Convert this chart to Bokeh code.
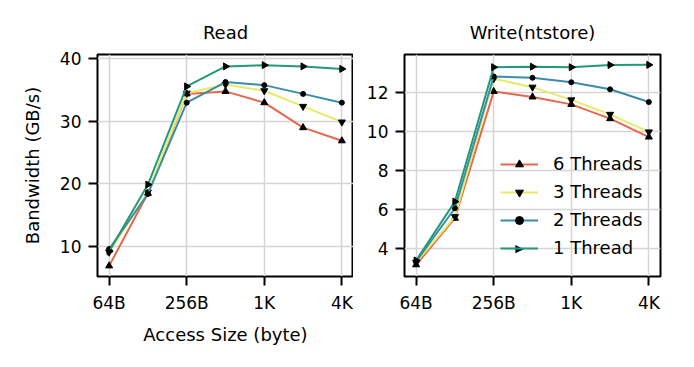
import numpy as np
from bokeh.plotting import figure
from bokeh.layouts import row
from bokeh.models import Range1d, FixedTicker, Legend, LegendItem, Label
from bokeh.embed import file_html
from bokeh.resources import INLINE

sizes = [64, 128, 256, 512, 1024, 2048, 4096]
tick_values = [64, 256, 1024, 4096]
tick_labels = ["64B", "256B", "1K", "4K"]

series_names = ["6 Threads", "3 Threads", "2 Threads", "1 Thread"]
read_6 = [6.9, 18.5, 34.4, 34.8, 33.0, 29.0, 26.9]
read_3 = [9.1, 18.7, 34.5, 35.9, 34.9, 32.4, 29.9]
read_2 = [9.6, 18.4, 33.0, 36.3, 35.8, 34.4, 33.0]
read_1 = [9.2, 19.9, 35.6, 38.8, 39.0, 38.8, 38.4]
write_6 = [3.17, 5.55, 12.03, 11.75, 11.37, 10.64, 9.70]
write_3 = [3.29, 5.63, 12.68, 12.25, 11.60, 10.86, 9.96]
write_2 = [3.34, 6.06, 12.80, 12.73, 12.50, 12.14, 11.49]
write_1 = [3.39, 6.40, 13.27, 13.30, 13.27, 13.38, 13.39]

colors = ["#e8664d", "#e9e96a", "#3b8ca6", "#22997a"]
markers = ["triangle", "inverted_triangle", "circle", "triangle"]
angles = [0, 0, 0, -np.pi / 2]
msizes = [7, 7, 5, 7]

FONT = "DejaVu Sans"
TICK_FS = "17px"
LAB_FS = "18px"


def make_fig(title, ydata, yr, yticks, left_border, right_border, ylabel=None, xlabel=None):
    p = figure(width=left_border + 256 + right_border, height=359,
               x_axis_type="log", output_backend="svg", toolbar_location=None,
               x_range=Range1d(64 * 2 ** -0.3, 4096 * 2 ** 0.3),
               y_range=Range1d(*yr),
               min_border_left=left_border, min_border_right=right_border,
               min_border_top=54, min_border_bottom=83, frame_width=256, frame_height=222,
               title=title)
    p.title.align = "center"
    p.title.text_font = FONT
    p.title.text_font_size = LAB_FS
    p.title.text_font_style = "normal"
    p.title.text_color = "black"
    p.title.standoff = 23
    p.outline_line_color = "black"
    p.outline_line_width = 2
    p.outline_line_alpha = 1
    p.xaxis.ticker = FixedTicker(ticks=tick_values)
    p.xaxis.major_label_overrides = {v: l for v, l in zip(tick_values, tick_labels)}
    p.yaxis.ticker = FixedTicker(ticks=yticks)
    for ax in [p.xaxis[0], p.yaxis[0]]:
        ax.axis_line_color = None
        ax.major_tick_out = 9
        ax.major_tick_in = 0
        ax.major_tick_line_width = 2
        ax.major_tick_line_color = "black"
        ax.minor_tick_line_color = None
        ax.major_label_text_font = FONT
        ax.major_label_text_font_size = TICK_FS
        ax.major_label_text_color = "black"
        ax.major_label_standoff = 7
        ax.axis_label_text_font = FONT
        ax.axis_label_text_font_size = LAB_FS
        ax.axis_label_text_font_style = "normal"
        ax.axis_label_text_color = "black"
    if ylabel:
        p.yaxis.axis_label = ylabel
        p.yaxis.axis_label_standoff = 14
    if xlabel:
        p.xaxis.axis_label = xlabel
        p.xaxis.axis_label_standoff = 8
    p.grid.grid_line_color = "#d5d5d5"
    p.grid.grid_line_width = 1.5
    p.xgrid.ticker = FixedTicker(ticks=tick_values)
    p.ygrid.ticker = FixedTicker(ticks=yticks)
    items = []
    for name, ys, c, m, a, s in zip(series_names, ydata, colors, markers, angles, msizes):
        lr = p.line(sizes, ys, line_color=c, line_width=2)
        sr = p.scatter(sizes, ys, marker=m, size=s, angle=a, fill_color="black", line_color="black")
        # legend cannot rotate markers, so the rotated one is drawn as a label below
        items.append(LegendItem(label=name, renderers=[lr, sr] if a == 0 else [lr]))
    return p, items


p1, _ = make_fig("Read", [read_6, read_3, read_2, read_1], (5.2, 40.7), [10, 20, 30, 40],
                 97, 0, ylabel="Bandwidth (GB/s)", xlabel="Access Size (byte)")
p2, items = make_fig("Write(ntstore)", [write_6, write_3, write_2, write_1], (2.57, 13.92),
                     [4, 6, 8, 10, 12], 51, 25)
LEG_X, LEG_Y, GW, GH, SP = 96, 18, 38, 20, 7
legend = Legend(items=items, location=(LEG_X, LEG_Y), padding=0, margin=0,
                border_line_alpha=0, background_fill_alpha=0,
                glyph_width=GW, glyph_height=GH, label_height=GH, spacing=SP,
                label_standoff=15, label_text_font=FONT, label_text_font_size=LAB_FS,
                label_text_color="black")
p2.add_layout(legend, "center")
p2.add_layout(Label(x=LEG_X + GW / 2, y=LEG_Y + GH / 2, x_units="screen", y_units="screen",
                    text="\u25B6", text_align="center", text_baseline="middle",
                    text_font=FONT, text_font_size="11px", text_color="black"))

layout = row(p1, p2)
open("out.html", "w").write(file_html(layout, INLINE))
